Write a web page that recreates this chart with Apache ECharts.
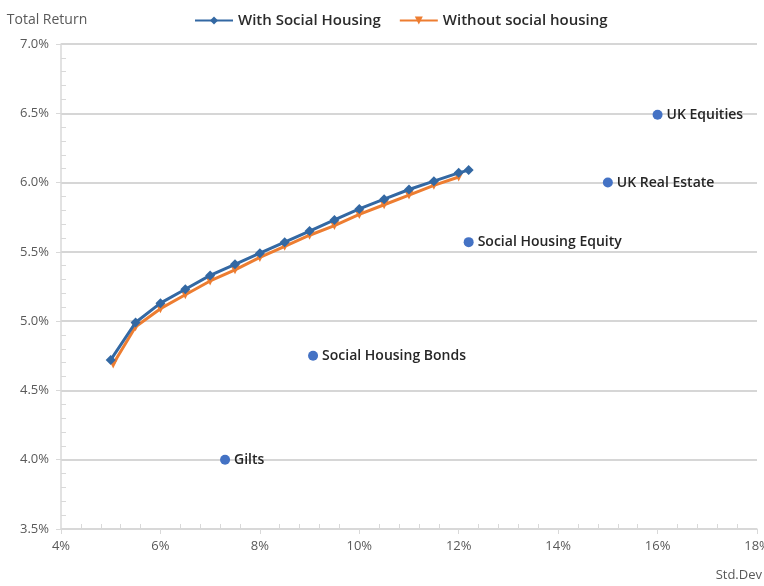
<!DOCTYPE html>
<html><head><meta charset="utf-8">
<script src="https://cdn.jsdelivr.net/npm/echarts@6/dist/echarts.min.js"></script>
<style>html,body{margin:0;padding:0;background:#fff}#c{width:764px;height:586px}</style>
</head><body><div id="c"></div>
<script>
const withX = [5.0,5.5,6.0,6.5,7.0,7.5,8.0,8.5,9.0,9.5,10.0,10.5,11.0,11.5,12.0,12.2];
const withY = [4.72,4.99,5.13,5.23,5.33,5.41,5.49,5.57,5.65,5.73,5.81,5.88,5.95,6.01,6.07,6.09];
const withoutX = [5.05,5.5,6.0,6.5,7.0,7.5,8.0,8.5,9.0,9.5,10.0,10.5,11.0,11.5,12.0];
const withoutY = [4.69,4.96,5.09,5.19,5.29,5.37,5.46,5.54,5.62,5.69,5.77,5.84,5.91,5.98,6.04];
const assetNames = ['Gilts','Social Housing Bonds','Social Housing Equity','UK Real Estate','UK Equities'];
const assetX = [7.3,9.07,12.2,15.0,16.0];
const assetY = [4.0,4.75,5.57,6.0,6.49];
const xTicks = {min:4,max:18,interval:2};
const yTicks = {min:3.5,max:7.0,interval:0.5};

const chart = echarts.init(document.getElementById('c'));
const font = 'Open Sans, Liberation Sans, sans-serif';
chart.setOption({
  animation:false,
  grid:{left:61,right:7,top:44,bottom:57,outerBoundsMode:'none',containLabel:false},
  legend:{
    top:8,left:189,itemWidth:38,itemHeight:10,itemGap:18,
    data:['With Social Housing','Without social housing'],
    textStyle:{color:'#2b2b2b',fontSize:15,fontWeight:600,fontFamily:font}
  },
  xAxis:[{
    type:'value',min:xTicks.min,max:xTicks.max,interval:xTicks.interval,
    name:'Std.Dev',nameLocation:'end',nameGap:0,
    nameTextStyle:{color:'#595959',fontSize:13,fontFamily:font,align:'right',verticalAlign:'top',padding:[40,-5,0,0]},
    axisLine:{show:true,lineStyle:{color:'#d9d9d9',width:1.5}},
    axisLabel:{color:'#595959',fontSize:13,fontFamily:font,margin:11,formatter:v=>v+'%'},
    axisTick:{show:true,inside:false,length:5,lineStyle:{color:'#d9d9d9'}},
    splitLine:{show:false}
  },{
    type:'value',min:xTicks.min,max:xTicks.max,interval:xTicks.interval,position:'bottom',
    axisLine:{show:false},axisLabel:{show:false},
    axisTick:{show:false,inside:true},
    minorTick:{show:true,splitNumber:5,length:5,lineStyle:{color:'#d9d9d9'}},
    splitLine:{show:false}
  }],
  yAxis:[{
    type:'value',min:yTicks.min,max:yTicks.max,interval:yTicks.interval,
    name:'Total Return',nameLocation:'end',nameGap:17,
    nameTextStyle:{color:'#595959',fontSize:14,fontFamily:font,align:'center',padding:[0,28,0,0]},
    axisLine:{show:true,lineStyle:{color:'#d9d9d9',width:1.5}},
    axisLabel:{color:'#595959',fontSize:13,fontFamily:font,margin:12,formatter:v=>v.toFixed(1)+'%'},
    axisTick:{show:true,inside:false,length:5,lineStyle:{color:'#d9d9d9'}},
    splitLine:{show:true,lineStyle:{color:'#c8c8c8',width:1.5}}
  },{
    type:'value',min:yTicks.min,max:yTicks.max,interval:yTicks.interval,position:'left',
    axisLine:{show:false},axisLabel:{show:false},
    axisTick:{show:false,inside:true},
    minorTick:{show:true,splitNumber:5,length:5,lineStyle:{color:'#d9d9d9'}},
    splitLine:{show:false}
  }],
  series:[{
    name:'With Social Housing',type:'line',
    data:withX.map((x,i)=>[x,withY[i]]),
    symbol:'diamond',symbolSize:10,
    lineStyle:{color:'#3368a3',width:3},
    itemStyle:{color:'#3368a3'},z:3
  },{
    name:'Without social housing',type:'line',
    data:withoutX.map((x,i)=>[x,withoutY[i]]),
    symbol:'triangle',symbolRotate:180,symbolSize:9,
    lineStyle:{color:'#ed7d31',width:3},
    itemStyle:{color:'#ed7d31'},z:2
  },{
    name:'Assets',type:'scatter',
    data:assetX.map((x,i)=>({value:[x,assetY[i]],name:assetNames[i]})),
    symbol:'circle',symbolSize:10,
    itemStyle:{color:'#4472c4',opacity:1},
    label:{show:true,position:'right',distance:4,formatter:p=>p.name,color:'#262626',fontSize:14,fontWeight:600,fontFamily:font}
  }]
});
</script></body></html>
